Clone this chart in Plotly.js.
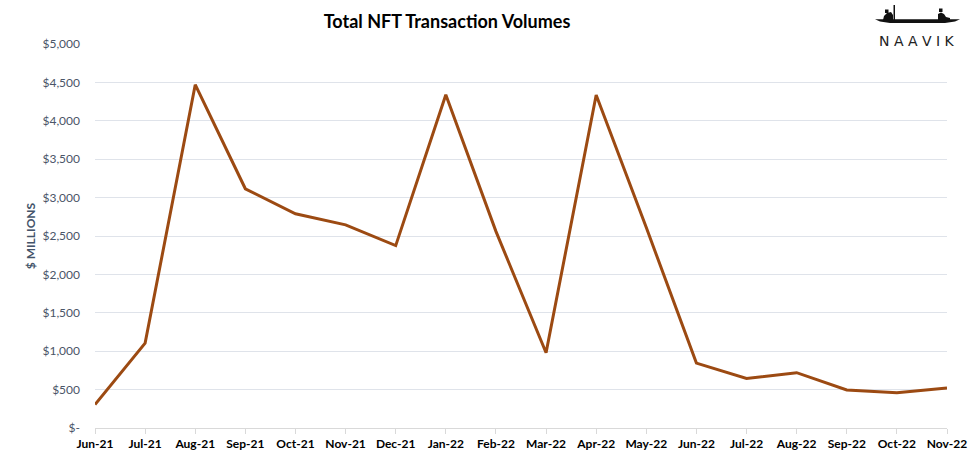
<!DOCTYPE html>
<html>
<head>
<meta charset="utf-8">
<script src="https://cdn.plot.ly/plotly-3.0.1.min.js"></script>
<style>
html,body{margin:0;padding:0;background:#fff;}
#chart{width:970px;height:460px;}
</style>
</head>
<body>
<div id="chart"></div>
<script>
var months = ["Jun-21","Jul-21","Aug-21","Sep-21","Oct-21","Nov-21","Dec-21","Jan-22","Feb-22","Mar-22","Apr-22","May-22","Jun-22","Jul-22","Aug-22","Sep-22","Oct-22","Nov-22"];
var volumes = [305, 1105, 4470, 3115, 2790, 2645, 2375, 4340, 2560, 980, 4335, 2610, 845, 645, 720, 495, 460, 520];
var yTickVals = [0,500,1000,1500,2000,2500,3000,3500,4000,4500,5000];
var yTickText = ["$-","$500","$1,000","$1,500","$2,000","$2,500","$3,000","$3,500","$4,000","$4,500","$5,000"];

var L = 95, R = 947, T = 44, B = 428;
function px(x){ return (x - L) / (R - L); }
function py(y){ return (B - y) / (B - T); }
function path(pts){
  return pts.map(function(p,i){ return (i===0?'M':'L') + px(p[0]).toFixed(5) + ',' + py(p[1]).toFixed(5); }).join(' ') + ' Z';
}

var hull = path([[875,19.3],[960,19.3],[955,21.5],[945,23],[890,23],[880,21.5]]);
var rower1 = path([[883,20],[884,16],[887,13],[891,12],[893,15],[893,20]]);
var head1 = path([[885,9.5],[888.5,9.5],[888.5,13],[885,13]]);
var pole = path([[893.5,5],[895,5],[895,20],[893.5,20]]);
var rower2 = path([[938,20],[938,14],[941,12.5],[944,14],[946,17],[950,18],[950,20]]);
var head2 = path([[939,8.5],[942.5,8.5],[942.5,12],[939,12]]);

var trace = {
  x: months,
  y: volumes,
  type: 'scatter',
  mode: 'lines',
  line: {color: '#9C4A12', width: 3},
  hoverinfo: 'x+y'
};

var layout = {
  width: 970,
  height: 460,
  margin: {l: L, r: 970 - R, t: T, b: 460 - B, pad: 0},
  paper_bgcolor: '#ffffff',
  plot_bgcolor: '#ffffff',
  showlegend: false,
  title: {
    text: '<b>Total NFT Transaction Volumes</b>',
    font: {family: 'Lato, "Open Sans", sans-serif', size: 18, color: '#000000'},
    x: 447 / 970, xanchor: 'center', xref: 'container',
    y: 1 - 22 / 460, yanchor: 'middle', yref: 'container'
  },
  xaxis: {
    type: 'category',
    range: [0, months.length - 1],
    showgrid: false,
    zeroline: false,
    showline: true,
    linecolor: '#d9d9d9',
    linewidth: 1,
    ticks: 'outside',
    ticklen: 5,
    tickcolor: '#d9d9d9',
    tickfont: {family: 'Lato, "Open Sans", sans-serif', size: 12, color: '#000000', weight: 'bold'},
    fixedrange: true
  },
  yaxis: {
    range: [0, 5000],
    tickvals: yTickVals,
    ticktext: yTickText,
    showgrid: true,
    gridcolor: '#dfe3ea',
    gridwidth: 1,
    zeroline: false,
    showline: false,
    ticks: '',
    ticklabelstandoff: 14,
    tickfont: {family: 'Lato, "Open Sans", sans-serif', size: 12, color: '#4a5568'},
    title: {
      text: '<b>$ MILLIONS</b>',
      font: {family: 'Lato, "Open Sans", sans-serif', size: 12, color: '#44546a'},
      standoff: 4
    },
    fixedrange: true
  },
  shapes: [
    {type: 'path', path: hull, xref: 'paper', yref: 'paper', fillcolor: '#111', line: {width: 0}},
    {type: 'path', path: rower1, xref: 'paper', yref: 'paper', fillcolor: '#111', line: {width: 0}},
    {type: 'path', path: head1, xref: 'paper', yref: 'paper', fillcolor: '#111', line: {width: 0}},
    {type: 'path', path: pole, xref: 'paper', yref: 'paper', fillcolor: '#111', line: {width: 0}},
    {type: 'path', path: rower2, xref: 'paper', yref: 'paper', fillcolor: '#111', line: {width: 0}},
    {type: 'path', path: head2, xref: 'paper', yref: 'paper', fillcolor: '#111', line: {width: 0}}
  ],
  annotations: [
    {
      text: 'N A A V I K',
      xref: 'paper', yref: 'paper',
      x: px(917), y: py(41),
      xanchor: 'center', yanchor: 'middle',
      showarrow: false,
      font: {family: '"DejaVu Sans", sans-serif', size: 14, color: '#222222'}
    }
  ]
};

Plotly.newPlot('chart', [trace], layout, {displayModeBar: false, staticPlot: true});
</script>
</body>
</html>
